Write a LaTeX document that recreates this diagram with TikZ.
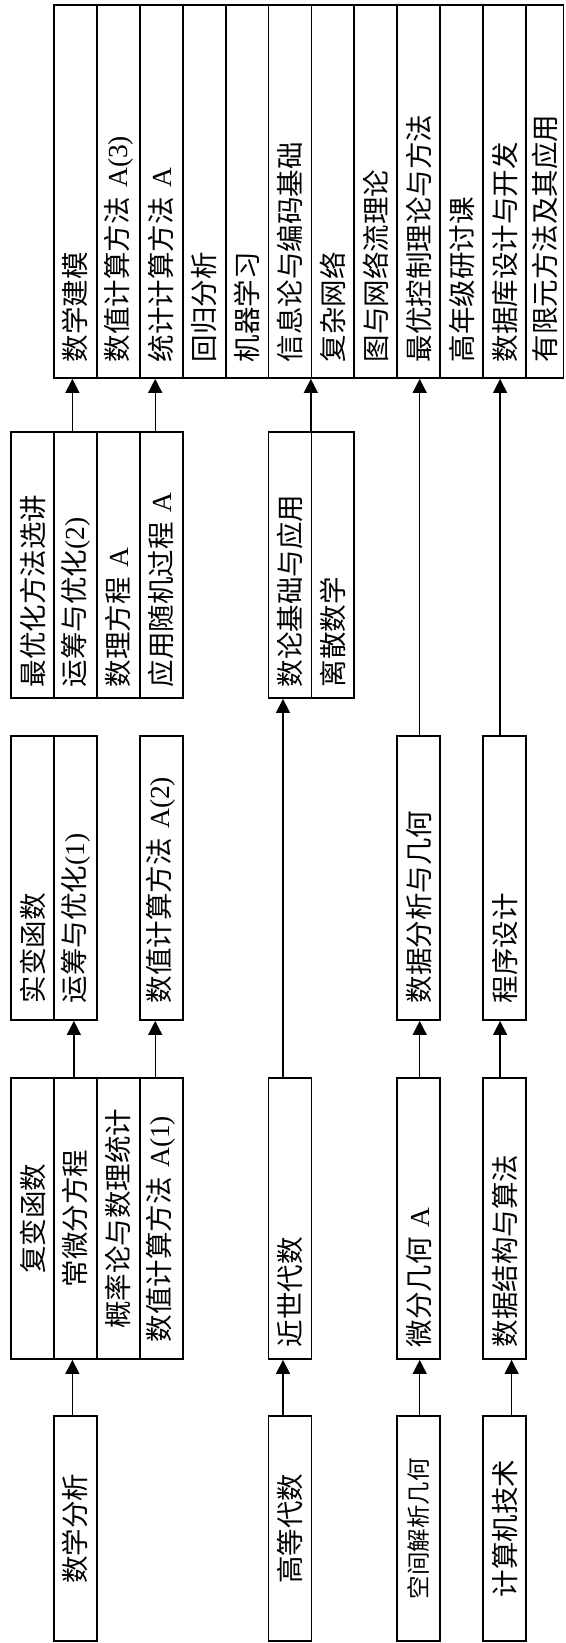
\documentclass[tikz,border=0pt]{standalone}
\usepackage{fontspec}
\setmainfont{Liberation Serif}
\newfontfamily\cjk{Noto Sans CJK SC}
\usepackage{tikz}
\usetikzlibrary{arrows.meta}
\newcommand\lat[1]{{\rmfamily #1}}
\tikzset{strip/.style={draw,line width=1.8pt,rotate=90,minimum height=42.9pt,inner ysep=0pt,font=\cjk\fontsize{27.5pt}{30pt}\selectfont},
         colE/.style={strip,inner xsep=16pt,text width=341pt,align=left},
         colD/.style={strip,inner xsep=11pt,text width=244pt,align=left},
         colC/.style={strip,inner xsep=17pt,text width=250pt,align=left},
         colB/.style={strip,inner xsep=0pt,minimum width=281pt,align=center},
         colBl/.style={strip,inner xsep=12pt,text width=257pt,align=left},
         colA/.style={strip,inner xsep=0pt,minimum width=225pt,align=center}}

\begin{document}
\begin{tikzpicture}[x=1pt,y=-1pt,arr/.style={-{Triangle[width=14pt,length=14pt]},line width=1.4pt}]
\useasboundingbox (0,0) rectangle (565,1643);
% top row
\node[colE] (jm) at (75.4,191.5) {数学建模};
\node[colE] (sz3) at (118.3,191.5) {数值计算方法\lat{ A(3)}};
\node[colE] (tj) at (161.2,191.5) {统计计算方法\lat{ A}};
\node[colE] (hg) at (204.2,191.5) {回归分析};
\node[colE] (jq) at (247.1,191.5) {机器学习};
\node[colE] (xx) at (290.0,191.5) {信息论与编码基础};
\node[colE] (fz) at (332.9,191.5) {复杂网络};
\node[colE] (tw) at (375.8,191.5) {图与网络流理论};
\node[colE] (zk) at (418.7,191.5) {最优控制理论与方法};
\node[colE] (gn) at (461.7,191.5) {高年级研讨课};
\node[colE] (sk) at (504.6,191.5) {数据库设计与开发};
\node[colE,minimum height=37.5pt] (yy) at (544.8,191.5) {有限元方法及其应用};
% fourth row
\node[colD] (zy) at (32.5,565) {最优化方法选讲};
\node[colD] (yc2) at (75.4,565) {运筹与优化\lat{(2)}};
\node[colD] (sl) at (118.3,565) {数理方程\lat{ A}};
\node[colD] (yx) at (161.2,565) {应用随机过程\lat{ A}};
\node[colD] (nt) at (290.0,565) {数论基础与应用};
\node[colD] (ls) at (332.9,565) {离散数学};
% third row
\node[colC] (sb) at (32.5,878) {实变函数};
\node[colC] (yc1) at (75.4,878) {运筹与优化\lat{(1)}};
\node[colC] (sz2) at (161.2,878) {数值计算方法\lat{ A(2)}};
\node[colC] (sf) at (418.7,878) {数据分析与几何};
\node[colC] (cx) at (504.6,878) {程序设计};
% second row
\node[colB] (fb) at (32.5,1218.5) {复变函数};
\node[colB] (cw) at (75.4,1218.5) {常微分方程};
\node[colB] (gl) at (118.3,1218.5) {概率论与数理统计};
\node[colC,text width=247pt] (sz1) at (161.2,1218.5) {数值计算方法\lat{ A(1)}};
\node[colBl] (js) at (290.0,1218.5) {近世代数};
\node[colBl] (wf) at (418.7,1218.5) {微分几何\lat{ A}};
\node[colBl] (sj) at (504.6,1218.5) {数据结构与算法};
% first row
\node[colA] (ma) at (75.4,1528.5) {数学分析};
\node[colA] (ga) at (290.0,1528.5) {高等代数};
\node[colA,font=\cjk\fontsize{23.5pt}{26pt}\selectfont] (jh) at (418.7,1528.5) {空间解析几何};
\node[colA] (jj) at (504.6,1528.5) {计算机技术};
% arrows
\draw[arr] ([xshift=-3pt]ma.east) -- ([xshift=-3pt]ma.east |- cw.west);
\draw[arr] ([xshift=-1.5pt]cw.east) -- ([xshift=-1.5pt]cw.east |- yc1.west);
\draw[arr] ([xshift=-6pt]sz1.east) -- ([xshift=-6pt]sz1.east |- sz2.west);
\draw[arr] ([xshift=-3pt]yc2.east) -- ([xshift=-3pt]yc2.east |- jm.west);
\draw[arr] ([xshift=-6pt]yx.east) -- ([xshift=-6pt]yx.east |- tj.west);
\draw[arr] ([xshift=-7pt]ga.east) -- ([xshift=-7pt]ga.east |- js.west);
\draw[arr] ([xshift=-7pt]js.east) -- ([xshift=-7pt]js.east |- nt.west);
\draw[arr] ([xshift=-1.5pt]nt.south east) -- ([xshift=-1.5pt]nt.south east |- xx.west);
\draw[arr] ([xshift=1pt]jh.east) -- ([xshift=1pt]jh.east |- wf.west);
\draw[arr] ([xshift=1pt]wf.east) -- ([xshift=1pt]wf.east |- sf.west);
\draw[arr] ([xshift=1pt]sf.east) -- ([xshift=1pt]sf.east |- zk.west);
\draw[arr] ([xshift=7pt]jj.east) -- ([xshift=7pt]jj.east |- sj.west);
\draw[arr] ([xshift=-4.5pt]sj.east) -- ([xshift=-4.5pt]sj.east |- cx.west);
\draw[arr] ([xshift=-4.5pt]cx.east) -- ([xshift=-4.5pt]cx.east |- sk.west);
\end{tikzpicture}
\end{document}
